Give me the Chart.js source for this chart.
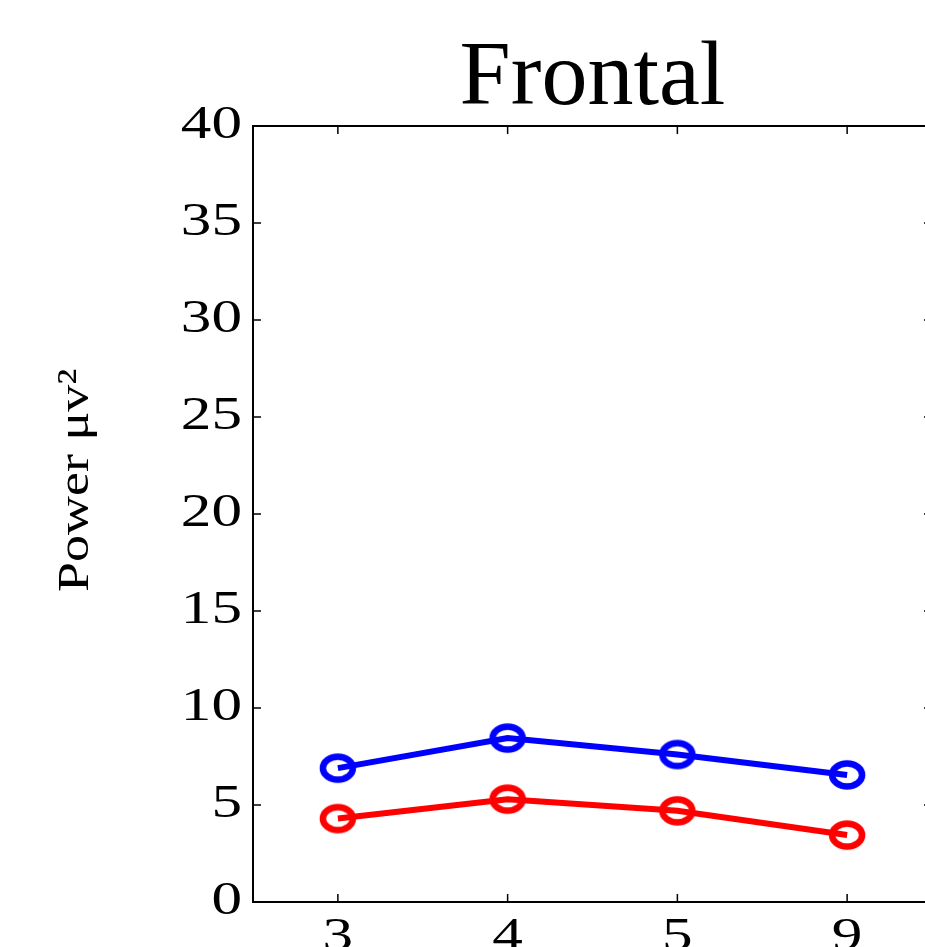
<!DOCTYPE html>
<html>
<head>
<meta charset="utf-8">
<script src="https://cdn.jsdelivr.net/npm/chart.js@4/dist/chart.umd.min.js"></script>
<style>
  html, body { margin: 0; padding: 0; overflow: hidden; background: #fff; }
  #wrap { position: relative; width: 940px; height: 1000px; }
</style>
</head>
<body>
<div id="wrap"><canvas id="c"></canvas></div>
<script>
// Channel categories on the x axis
const categories = ['3', '4', '5', '9'];
// Mean power per category (μv²)
const blueSeries = [6.9, 8.45, 7.6, 6.55];
const redSeries = [4.3, 5.3, 4.7, 3.45];
// Y axis tick values
const yTickValues = [0, 5, 10, 15, 20, 25, 30, 35, 40];

const SERIF = '"Liberation Serif", "Times New Roman", serif';
const TICK_SIZE = 46;
const LABEL_SIZE = 45;
// Horizontal widening of the axis text, keyed by font size
const widenBySize = { [TICK_SIZE]: 1.33, [LABEL_SIZE]: 1.2 };

// Open elliptical ring used as the point marker
function ringMarker(color) {
  const c = document.createElement('canvas');
  c.width = 46; c.height = 38;
  const g = c.getContext('2d');
  g.strokeStyle = color;
  g.lineWidth = 6.5;
  g.beginPath();
  g.ellipse(23, 19, 15, 11.5, 0, 0, Math.PI * 2);
  g.stroke();
  return c;
}

// Axis text is set in a wide serif face: stretch glyphs along the baseline
const wideText = {
  id: 'wideText',
  beforeInit(chart) {
    const ctx = chart.ctx;
    const fill = ctx.fillText.bind(ctx);
    ctx.fillText = function (text, x, y, maxWidth) {
      const m = /([\d.]+)px/.exec(ctx.font);
      const size = m ? parseFloat(m[1]) : 12;
      const sx = widenBySize[size] || 1;
      ctx.save();
      ctx.translate(x, y);
      ctx.scale(sx, 1);
      if (maxWidth === undefined) fill(text, 0, 0);
      else fill(text, 0, 0, maxWidth / sx);
      ctx.restore();
    };
  }
};

// Box around the plot with inward-pointing tick marks on all four sides
const boxFrame = {
  id: 'boxFrame',
  afterDraw(chart) {
    const { ctx, chartArea: a, scales: { x, y } } = chart;
    ctx.save();
    ctx.strokeStyle = '#000';
    ctx.lineWidth = 2;
    ctx.strokeRect(a.left, a.top, a.right - a.left, a.bottom - a.top);
    ctx.lineWidth = 1.5;
    ctx.beginPath();
    y.ticks.forEach((t, i) => {
      const py = y.getPixelForTick(i);
      ctx.moveTo(a.left, py); ctx.lineTo(a.left + 8, py);
      ctx.moveTo(a.right, py); ctx.lineTo(a.right - 8, py);
    });
    x.ticks.forEach((t, i) => {
      const px = x.getPixelForTick(i);
      ctx.moveTo(px, a.bottom); ctx.lineTo(px, a.bottom - 8);
      ctx.moveTo(px, a.top); ctx.lineTo(px, a.top + 8);
    });
    ctx.stroke();
    ctx.restore();
  }
};

new Chart(document.getElementById('c'), {
  type: 'line',
  data: {
    labels: categories,
    datasets: [
      {
        data: blueSeries,
        borderColor: '#0000ff',
        borderWidth: 6,
        tension: 0,
        pointStyle: ringMarker('#0000ff'),
        pointRadius: 12
      },
      {
        data: redSeries,
        borderColor: '#ff0000',
        borderWidth: 6,
        tension: 0,
        pointStyle: ringMarker('#ff0000'),
        pointRadius: 12
      }
    ]
  },
  options: {
    responsive: true,
    maintainAspectRatio: false,
    animation: false,
    layout: { padding: { left: 0, right: 8, top: 0, bottom: 0 }, autoPadding: false },
    plugins: {
      legend: { display: false },
      tooltip: { enabled: false },
      title: {
        display: true,
        text: 'Frontal',
        fullSize: false,
        color: '#000',
        font: { family: SERIF, size: 92, weight: 'normal', lineHeight: 1 },
        padding: { top: 34, bottom: 0 }
      }
    },
    scales: {
      x: {
        type: 'category',
        offset: true,
        grid: { display: false, drawTicks: false },
        border: { display: false },
        ticks: { color: '#000', padding: 8, font: { family: SERIF, size: TICK_SIZE } },
        afterFit(s) { s.height = 98; }
      },
      y: {
        min: 0,
        max: 40,
        afterBuildTicks(s) { s.ticks = yTickValues.map(v => ({ value: v })); },
        grid: { display: false, drawTicks: false },
        border: { display: false },
        ticks: { color: '#000', padding: 11, font: { family: SERIF, size: TICK_SIZE } },
        title: {
          display: true,
          text: '\u00a0\u00a0\u00a0\u00a0\u00a0Power μv²',
          color: '#000',
          font: { family: SERIF, size: LABEL_SIZE, lineHeight: 1 },
          padding: { top: 54, bottom: 0 }
        },
        afterFit(s) { s.width = 253; }
      }
    }
  },
  plugins: [wideText, boxFrame]
});
</script>
</body>
</html>
